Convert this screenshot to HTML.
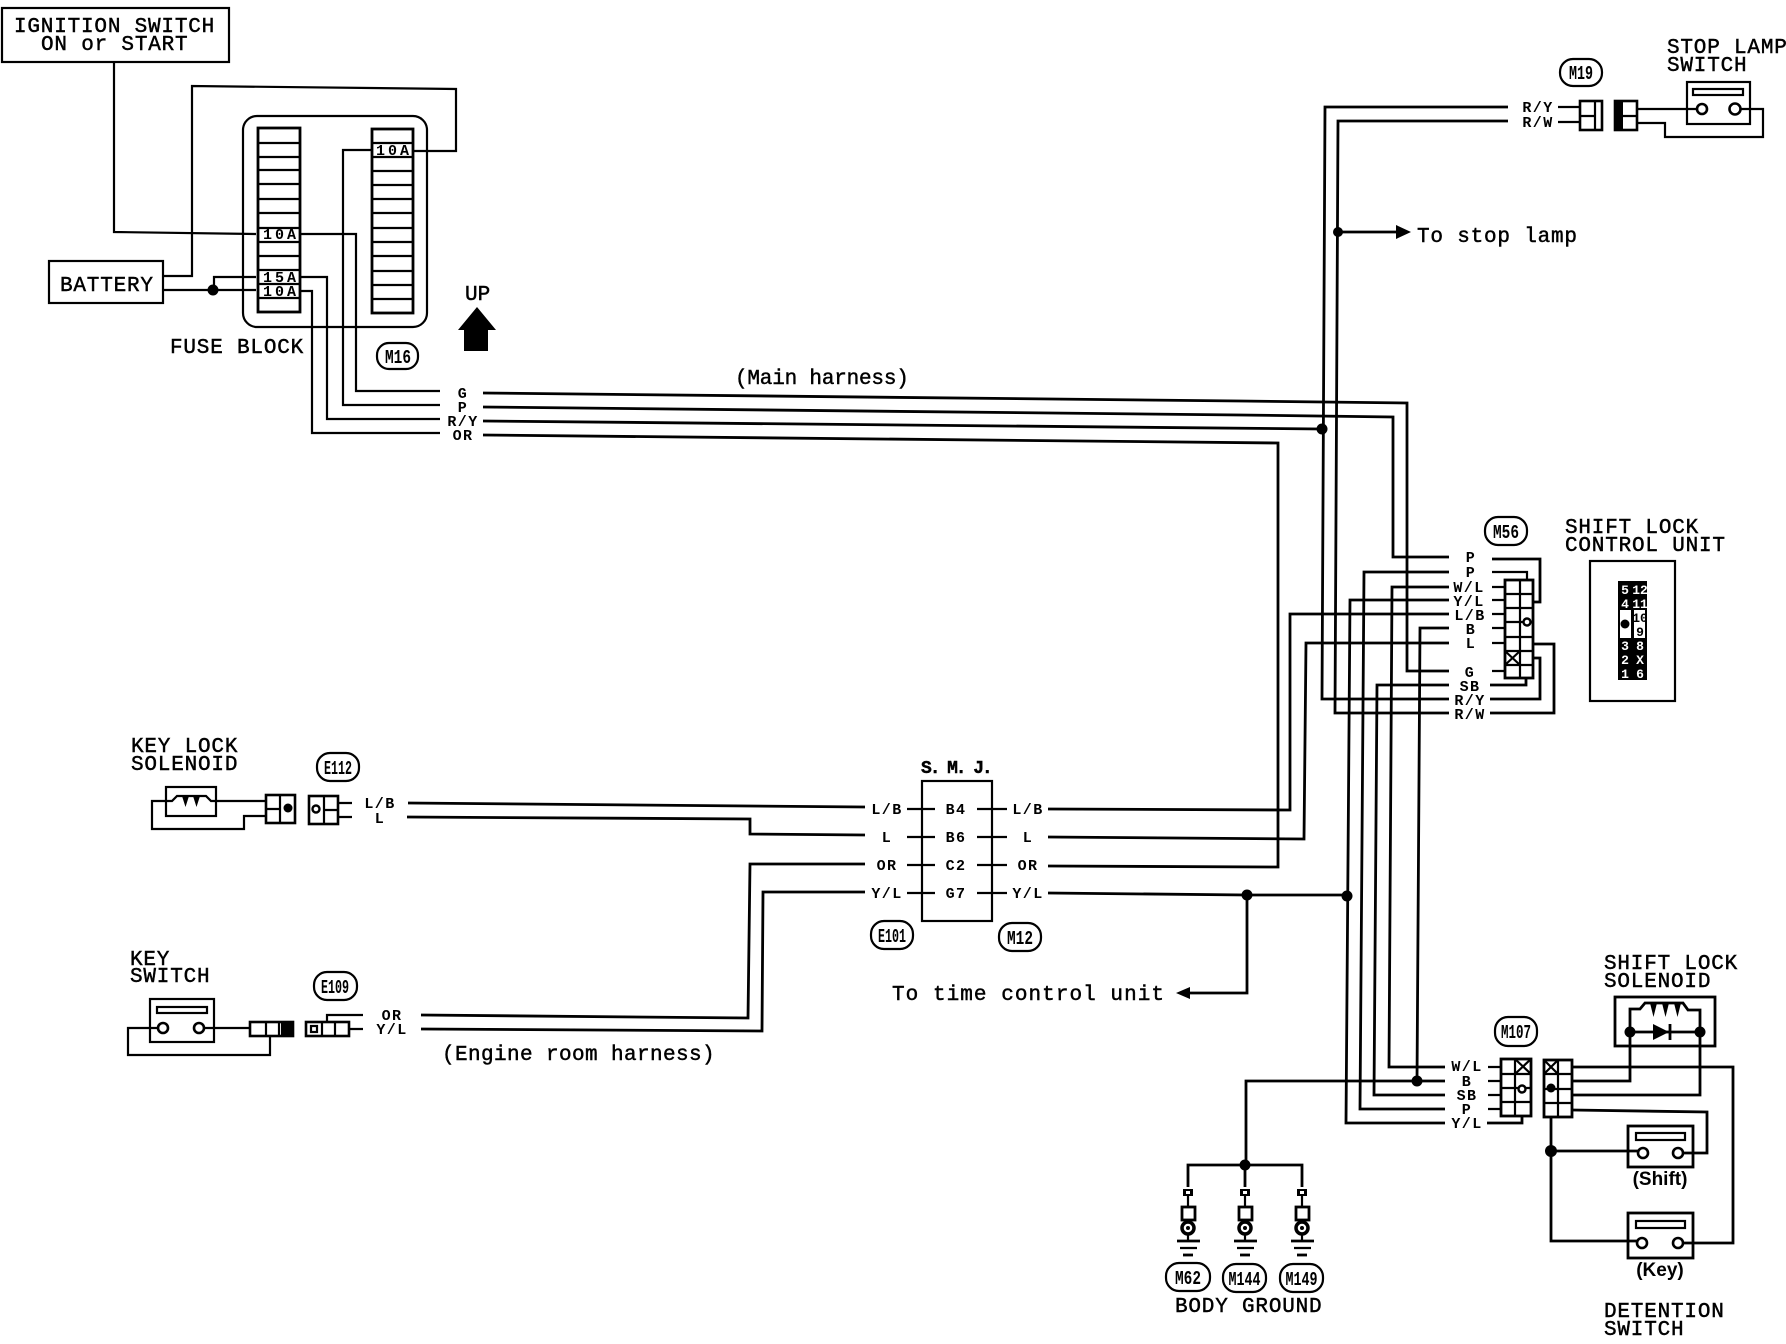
<!DOCTYPE html>
<html><head><meta charset="utf-8"><style>
html,body{margin:0;padding:0;background:#fff}
svg{display:block}
text{font-family:"Liberation Mono",monospace;fill:#000}
.t{font-size:21px;letter-spacing:.8px;stroke:#000;stroke-width:.45}
.b{font-size:15px;font-weight:bold;text-anchor:middle;letter-spacing:1.4px}
.q{font-size:15px;font-weight:bold;text-anchor:middle;letter-spacing:3px}
.m{font-size:19px;font-weight:bold;text-anchor:middle}
.s{font-family:"Liberation Sans",sans-serif;font-size:19px;font-weight:bold;text-anchor:middle}
.w{fill:none;stroke:#000;stroke-width:2.2;stroke-linejoin:miter}
.k{fill:none;stroke:#000;stroke-width:2.8}
.f{fill:#000;stroke:none}
.wc{fill:#fff;stroke:#000;stroke-width:2.6}
.u{font-size:13px;font-weight:bold;text-anchor:middle}
</style></head><body>
<svg width="1786" height="1344" viewBox="0 0 1786 1344" xmlns="http://www.w3.org/2000/svg">
<rect width="1786" height="1344" fill="#fff"/>

<!-- top-left boxes -->
<rect class="w" x="2" y="8" width="227" height="54"/>
<text class="t" x="14" y="32">IGNITION SWITCH</text>
<text class="t" x="41" y="50">ON or START</text>
<rect class="w" x="49" y="261" width="114" height="42"/>
<text class="t" x="60" y="291">BATTERY</text>

<!-- fuse block -->
<rect class="w" x="243" y="116" width="184" height="211" rx="14"/>
<rect class="k" x="258" y="128" width="42" height="184"/>
<path class="w" d="M258 143H300M258 157H300M258 170H300M258 184H300M258 199H300M258 213H300M258 228H300M258 242H300M258 256H300M258 270H300M258 284H300M258 298H300"/>
<rect class="k" x="372" y="129" width="41" height="184"/>
<path class="w" d="M372 143H413M372 157H413M372 171H413M372 185H413M372 199H413M372 213H413M372 228H413M372 242H413M372 256H413M372 271H413M372 285H413M372 299H413"/>
<text class="q" x="281" y="239">10A</text>
<text class="q" x="281" y="282">15A</text>
<text class="q" x="281" y="296">10A</text>
<text class="q" x="394" y="155">10A</text>
<text class="t" x="170" y="353">FUSE BLOCK</text>
<text class="t" x="465" y="300" style="letter-spacing:0">UP</text>
<path class="f" d="M477 307L496 330H488V351H464V330H458Z"/>
<rect class="w" x="377" y="343" width="41" height="26" rx="12"/>
<text class="m" x="398" y="363" textLength="26" lengthAdjust="spacingAndGlyphs">M16</text>

<!-- top-left wires -->
<path class="w" d="M114 62V232L256 234"/>
<path class="w" d="M163 276H192V86L456 89V151H413"/>
<path class="w" d="M163 290H256M214 290V277H256"/>
<circle class="f" cx="213" cy="290" r="5.5"/>
<path class="w" d="M372 150H343V405H440"/>
<path class="w" d="M300 234H356V391H440"/>
<path class="w" d="M300 277H327V419H440"/>
<path class="w" d="M300 291H312V433H440"/>
<text class="b" x="463" y="398">G</text>
<text class="b" x="463" y="412">P</text>
<text class="b" x="463" y="426">R/Y</text>
<text class="b" x="463" y="440">OR</text>
<text class="t" x="735" y="384" style="letter-spacing:-.2px">(Main harness)</text>

<!-- harness -->
<path class="k" d="M483 393L1240 401L1407 403V671H1449"/>
<path class="k" d="M483 407L1240 415L1393 417V557H1449"/>
<path class="k" d="M483 421L1322 429"/>
<path class="k" d="M483 435L1278 443V867L1048 866"/>
<circle class="f" cx="1322" cy="429" r="5.5"/>

<!-- R/Y, R/W trunks -->
<path class="k" d="M1508 107H1325L1322 699H1449"/>
<path class="k" d="M1508 121H1338L1335 713H1449"/>
<circle class="f" cx="1338" cy="232" r="5"/>
<path class="k" d="M1338 232H1400"/>
<path class="f" d="M1396 225L1411 232L1396 239Z"/>
<text class="t" x="1417" y="242">To stop lamp</text>

<!-- M19 / stop lamp -->
<rect class="w" x="1560" y="59" width="42" height="27" rx="13"/>
<text class="m" x="1581" y="79" textLength="24" lengthAdjust="spacingAndGlyphs">M19</text>
<text class="b" x="1538" y="112">R/Y</text>
<text class="b" x="1538" y="127">R/W</text>
<path class="w" d="M1558 107H1580M1558 122H1580"/>
<rect class="wc" x="1580" y="101" width="22" height="29"/>
<path class="w" d="M1580 116H1595M1595 101V130"/>
<rect class="wc" x="1615" y="101" width="22" height="29"/>
<rect class="f" x="1615" y="101" width="8" height="29"/>
<path class="w" d="M1615 116H1637"/>
<text class="t" x="1667" y="53">STOP LAMP</text>
<text class="t" x="1667" y="71">SWITCH</text>
<rect class="w" x="1687" y="82" width="63" height="42"/>
<rect class="w" x="1693" y="89" width="50" height="6"/>
<path class="w" d="M1637 109H1697M1741 109H1763V137H1665V123H1637"/>
<circle class="wc" cx="1702" cy="109" r="5"/>
<circle class="wc" cx="1735" cy="109" r="5.5"/>

<!-- M56 -->
<rect class="w" x="1485" y="517" width="42" height="28" rx="13"/>
<text class="m" x="1506" y="538" textLength="26" lengthAdjust="spacingAndGlyphs">M56</text>
<text class="b" x="1471" y="562">P</text>
<text class="b" x="1471" y="577">P</text>
<text class="b" x="1469" y="592">W/L</text>
<text class="b" x="1469" y="606">Y/L</text>
<text class="b" x="1470" y="620">L/B</text>
<text class="b" x="1471" y="634">B</text>
<text class="b" x="1471" y="648">L</text>
<text class="b" x="1470" y="677">G</text>
<text class="b" x="1470" y="691">SB</text>
<text class="b" x="1470" y="705">R/Y</text>
<text class="b" x="1470" y="719">R/W</text>
<rect class="k" x="1505" y="580" width="28" height="98"/>
<path class="w" d="M1520 580V678M1505 594H1533M1505 608H1533M1505 622H1533M1505 637H1533M1505 651H1533M1505 665H1533M1505 651L1520 665M1520 651L1505 665"/>
<circle cx="1527" cy="622" r="3.5" fill="#fff" stroke="#000" stroke-width="2.4"/>
<path class="w" d="M1492 587H1505M1492 600H1505M1492 614H1505M1492 628H1505M1492 643H1505M1492 671H1505"/>
<path class="k" d="M1492 559H1540V602H1533"/>
<path class="w" d="M1492 572H1527V580"/>
<path class="k" d="M1490 699H1540V658H1533"/>
<path class="k" d="M1490 713H1554V644H1533"/>
<path class="k" d="M1490 685H1526V678"/>

<!-- wires between M56 and M107 -->
<path class="k" d="M1449 572H1364L1360 1109H1445"/>
<path class="k" d="M1449 587H1392L1389 1067H1445"/>
<path class="k" d="M1449 600H1350L1346 1123H1445"/>
<path class="k" d="M1449 614H1290V810L1048 809"/>
<path class="k" d="M1449 628H1420L1417 1081"/>
<path class="k" d="M1449 643H1306L1304 839L1048 837"/>
<path class="k" d="M1449 685H1377L1374 1095H1445"/>
<path class="k" d="M1445 1081H1246V1165"/>
<circle class="f" cx="1417" cy="1081" r="5.5"/>

<!-- shift lock control unit -->
<text class="t" x="1565" y="533">SHIFT LOCK</text>
<text class="t" x="1565" y="551">CONTROL UNIT</text>
<rect class="w" x="1590" y="561" width="85" height="140"/>
<rect class="f" x="1618" y="581" width="29" height="99"/>
<rect x="1620" y="610" width="11" height="28" fill="#fff"/>
<rect x="1634" y="610" width="11" height="28" fill="#fff"/>
<circle class="f" cx="1625" cy="624" r="4.5"/>
<text class="u" x="1625" y="594" style="fill:#fff">5</text><text class="u" x="1640" y="594" style="fill:#fff">12</text>
<text class="u" x="1625" y="608" style="fill:#fff">4</text><text class="u" x="1640" y="608" style="fill:#fff">11</text>
<text class="u" x="1640" y="622">10</text><text class="u" x="1640" y="636">9</text>
<text class="u" x="1625" y="650" style="fill:#fff">3</text><text class="u" x="1640" y="650" style="fill:#fff">8</text>
<text class="u" x="1625" y="664" style="fill:#fff">2</text><text class="u" x="1640" y="664" style="fill:#fff">X</text>
<text class="u" x="1625" y="678" style="fill:#fff">1</text><text class="u" x="1640" y="678" style="fill:#fff">6</text>

<!-- key lock solenoid -->
<text class="t" x="131" y="752">KEY LOCK</text>
<text class="t" x="131" y="770">SOLENOID</text>
<rect class="w" x="166" y="787" width="50" height="29"/>
<path class="w" d="M216 801H266M166 801H152V829H244V816H266"/>
<path class="w" d="M166 801H172L177 796H206L211 801H216"/>
<path class="f" d="M182 796H189L185.5 807ZM193 796H200L196.5 807Z"/>
<rect class="wc" x="266" y="795" width="29" height="28"/>
<path class="w" d="M280 795V823M266 809H280"/>
<circle class="f" cx="288" cy="808" r="4.5"/>
<rect class="wc" x="309" y="796" width="29" height="28"/>
<path class="w" d="M324 796V824M324 810H338"/>
<circle cx="316" cy="809" r="3.5" fill="#fff" stroke="#000" stroke-width="2.4"/>
<rect class="w" x="317" y="753" width="42" height="28" rx="13"/>
<text class="m" x="338" y="774" textLength="28" lengthAdjust="spacingAndGlyphs">E112</text>
<path class="w" d="M338 803H352M338 817H352"/>
<text class="b" x="380" y="808">L/B</text>
<text class="b" x="380" y="823">L</text>
<path class="k" d="M408 803L865 807"/>
<path class="k" d="M407 817L750 819V834L865 835"/>

<!-- key switch -->
<text class="t" x="130" y="965">KEY</text>
<text class="t" x="130" y="982">SWITCH</text>
<rect class="w" x="150" y="999" width="64" height="43"/>
<rect class="w" x="157" y="1007" width="50" height="6"/>
<path class="w" d="M158 1028H128V1055H270V1036M204 1028H250"/>
<circle class="wc" cx="163" cy="1028" r="5"/>
<circle class="wc" cx="199" cy="1028" r="5"/>
<rect class="wc" x="250" y="1022" width="43" height="14"/>
<path class="w" d="M266 1022V1036M279 1022V1036"/>
<rect class="f" x="281" y="1023" width="11" height="12"/>
<rect class="wc" x="306" y="1022" width="43" height="14"/>
<path class="w" d="M322 1022V1036M335 1022V1036"/>
<rect class="w" x="311" y="1026" width="6" height="6"/>
<path class="w" d="M327 1022V1015H363M349 1029H363"/>
<rect class="w" x="314" y="972" width="43" height="28" rx="13"/>
<text class="m" x="335" y="993" textLength="28" lengthAdjust="spacingAndGlyphs">E109</text>
<text class="b" x="392" y="1020">OR</text>
<text class="b" x="392" y="1034">Y/L</text>
<path class="k" d="M421 1015L748 1018L750 864H865"/>
<path class="k" d="M421 1029L762 1031L763 892H865"/>
<text class="t" x="442" y="1060" style="letter-spacing:.4px">(Engine room harness)</text>

<!-- SMJ -->
<text class="t" x="921" y="773" style="font-size:18px;letter-spacing:-2.1px;font-weight:bold">S. M. J.</text>
<rect class="w" x="922" y="781" width="70" height="140"/>
<text class="b" x="956" y="814">B4</text>
<text class="b" x="956" y="842">B6</text>
<text class="b" x="956" y="870">C2</text>
<text class="b" x="956" y="898">G7</text>
<path class="w" d="M907 809H935M907 837H935M907 865H935M907 893H935M977 809H1007M977 837H1007M977 865H1007M977 893H1007"/>
<text class="b" x="887" y="814">L/B</text>
<text class="b" x="887" y="842">L</text>
<text class="b" x="887" y="870">OR</text>
<text class="b" x="887" y="898">Y/L</text>
<text class="b" x="1028" y="814">L/B</text>
<text class="b" x="1028" y="842">L</text>
<text class="b" x="1028" y="870">OR</text>
<text class="b" x="1028" y="898">Y/L</text>
<rect class="w" x="871" y="921" width="42" height="28" rx="13"/>
<text class="m" x="892" y="942" textLength="28" lengthAdjust="spacingAndGlyphs">E101</text>
<rect class="w" x="999" y="923" width="42" height="28" rx="13"/>
<text class="m" x="1020" y="944" textLength="26" lengthAdjust="spacingAndGlyphs">M12</text>
<path class="k" d="M1048 893L1247 895H1347"/>
<circle class="f" cx="1247" cy="895" r="5.5"/>
<circle class="f" cx="1347" cy="896" r="5.5"/>
<path class="k" d="M1247 895V993H1188"/>
<path class="f" d="M1190 987L1176 993L1190 999Z"/>
<text class="t" x="892" y="1000" style="letter-spacing:1.05px">To time control unit</text>

<!-- M107 -->
<rect class="w" x="1495" y="1017" width="42" height="29" rx="13"/>
<text class="m" x="1516" y="1038" textLength="30" lengthAdjust="spacingAndGlyphs">M107</text>
<text class="b" x="1467" y="1071">W/L</text>
<text class="b" x="1467" y="1086">B</text>
<text class="b" x="1467" y="1100">SB</text>
<text class="b" x="1467" y="1114">P</text>
<text class="b" x="1467" y="1128">Y/L</text>
<rect class="k" x="1501" y="1059" width="30" height="57"/>
<path class="w" d="M1515 1059V1116M1501 1074H1531M1501 1088H1531M1501 1102H1531M1515 1059L1531 1074M1531 1059L1515 1074"/>
<circle cx="1522" cy="1089" r="3.5" fill="#fff" stroke="#000" stroke-width="2.4"/>
<path class="w" d="M1488 1067H1501M1488 1081H1501M1488 1095H1501M1488 1109H1501"/>
<path class="k" d="M1487 1123H1522V1116"/>
<rect class="k" x="1544" y="1060" width="28" height="57"/>
<path class="w" d="M1558 1060V1117M1544 1074H1572M1544 1089H1572M1544 1103H1572M1544 1060L1558 1074M1558 1060L1544 1074"/>
<circle class="f" cx="1551" cy="1088" r="4.5"/>

<!-- shift lock solenoid -->
<text class="t" x="1604" y="969">SHIFT LOCK</text>
<text class="t" x="1604" y="987">SOLENOID</text>
<rect class="k" x="1615" y="997" width="100" height="49"/>
<path class="k" d="M1630 1032V1009H1640L1645 1003H1683L1688 1010H1700V1032M1630 1032H1700"/>
<path class="f" d="M1650 1003H1657L1653.5 1017ZM1662 1003H1669L1665.5 1017ZM1674 1003H1681L1677.5 1017Z"/>
<path class="f" d="M1653 1024L1669 1032L1653 1040Z"/>
<path class="k" d="M1670 1024V1040"/>
<circle class="f" cx="1630" cy="1032" r="5.5"/>
<circle class="f" cx="1700" cy="1032" r="5.5"/>
<path class="k" d="M1572 1067H1733V1243H1683"/>
<path class="k" d="M1572 1081H1630V1032"/>
<path class="k" d="M1572 1095H1700V1032"/>
<path class="k" d="M1572 1110L1707 1112V1153H1683"/>
<path class="k" d="M1551 1117V1241H1637M1551 1151H1638"/>
<circle class="f" cx="1551" cy="1151" r="6"/>
<rect class="k" x="1628" y="1126" width="65" height="41"/>
<rect class="w" x="1636" y="1133" width="49" height="7"/>
<circle class="wc" cx="1643" cy="1153" r="5"/>
<circle class="wc" cx="1678" cy="1153" r="5"/>
<text class="s" x="1660" y="1185">(Shift)</text>
<rect class="k" x="1628" y="1213" width="65" height="45"/>
<rect class="w" x="1636" y="1221" width="49" height="7"/>
<circle class="wc" cx="1642" cy="1243" r="5"/>
<circle class="wc" cx="1678" cy="1243" r="5"/>
<text class="s" x="1660" y="1276">(Key)</text>
<text class="t" x="1604" y="1317">DETENTION</text>
<text class="t" x="1604" y="1335">SWITCH</text>

<!-- grounds -->
<path class="k" d="M1188 1187V1165H1302V1187M1245 1165V1187"/>
<circle class="f" cx="1245" cy="1165" r="5.5"/>
<g>
<rect class="f" x="1183" y="1189" width="10" height="7"/>
<rect x="1186" y="1191" width="4" height="3" fill="#fff"/>
<path class="w" d="M1188 1196V1206"/>
<rect class="k" x="1182" y="1207" width="13" height="13"/>
<circle cx="1188" cy="1228" r="6" fill="#fff" stroke="#000" stroke-width="3.5"/>
<circle class="f" cx="1188" cy="1228" r="2"/>
<path class="w" d="M1188 1235V1241"/>
<path class="k" d="M1177 1241H1200"/>
<path class="w" d="M1180 1248H1197"/>
<path class="k" d="M1183 1255H1193"/>
</g>
<g transform="translate(57 0)">
<rect class="f" x="1183" y="1189" width="10" height="7"/>
<rect x="1186" y="1191" width="4" height="3" fill="#fff"/>
<path class="w" d="M1188 1196V1206"/>
<rect class="k" x="1182" y="1207" width="13" height="13"/>
<circle cx="1188" cy="1228" r="6" fill="#fff" stroke="#000" stroke-width="3.5"/>
<circle class="f" cx="1188" cy="1228" r="2"/>
<path class="w" d="M1188 1235V1241"/>
<path class="k" d="M1177 1241H1200"/>
<path class="w" d="M1180 1248H1197"/>
<path class="k" d="M1183 1255H1193"/>
</g>
<g transform="translate(114 0)">
<rect class="f" x="1183" y="1189" width="10" height="7"/>
<rect x="1186" y="1191" width="4" height="3" fill="#fff"/>
<path class="w" d="M1188 1196V1206"/>
<rect class="k" x="1182" y="1207" width="13" height="13"/>
<circle cx="1188" cy="1228" r="6" fill="#fff" stroke="#000" stroke-width="3.5"/>
<circle class="f" cx="1188" cy="1228" r="2"/>
<path class="w" d="M1188 1235V1241"/>
<path class="k" d="M1177 1241H1200"/>
<path class="w" d="M1180 1248H1197"/>
<path class="k" d="M1183 1255H1193"/>
</g>
<rect class="w" x="1166" y="1263" width="44" height="28" rx="13"/>
<text class="m" x="1188" y="1284" textLength="26" lengthAdjust="spacingAndGlyphs">M62</text>
<rect class="w" x="1223" y="1264" width="43" height="28" rx="13"/>
<text class="m" x="1244.5" y="1285" textLength="32" lengthAdjust="spacingAndGlyphs">M144</text>
<rect class="w" x="1280" y="1264" width="43" height="28" rx="13"/>
<text class="m" x="1301.5" y="1285" textLength="32" lengthAdjust="spacingAndGlyphs">M149</text>
<text class="t" x="1175" y="1312">BODY GROUND</text>
</svg>
</body></html>
